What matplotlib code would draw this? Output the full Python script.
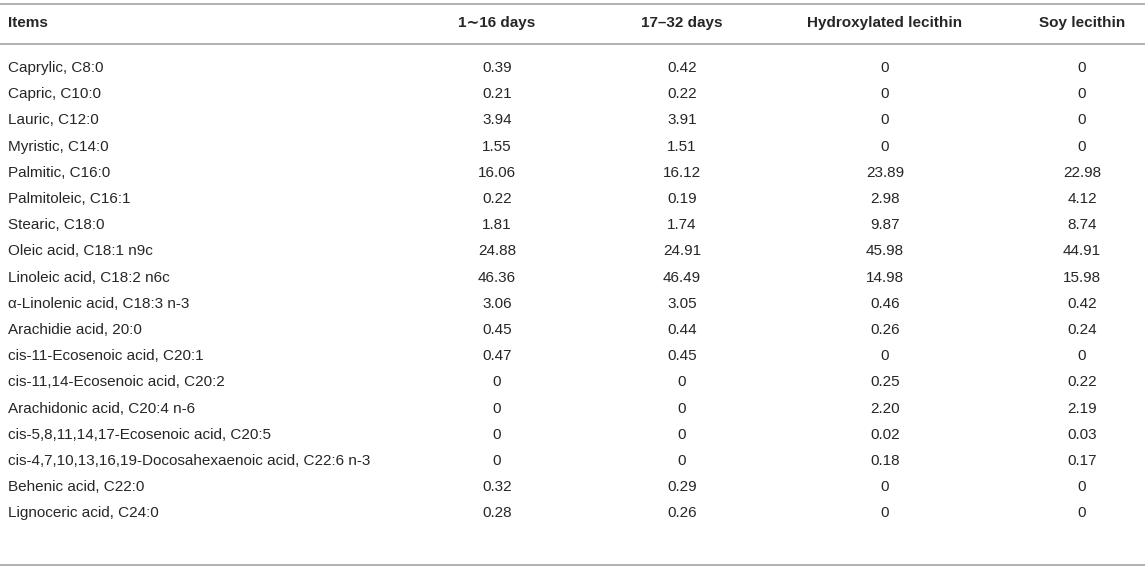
import matplotlib
matplotlib.use("Agg")
import matplotlib.pyplot as plt

# Table content
headers = ["Items", "1\u223c16 days", "17\u201332 days", "Hydroxylated lecithin", "Soy lecithin"]

items = [
    "Caprylic, C8:0",
    "Capric, C10:0",
    "Lauric, C12:0",
    "Myristic, C14:0",
    "Palmitic, C16:0",
    "Palmitoleic, C16:1",
    "Stearic, C18:0",
    "Oleic acid, C18:1 n9c",
    "Linoleic acid, C18:2 n6c",
    "\u03b1-Linolenic acid, C18:3 n-3",
    "Arachidie acid, 20:0",
    "cis-11-Ecosenoic acid, C20:1",
    "cis-11,14-Ecosenoic acid, C20:2",
    "Arachidonic acid, C20:4 n-6",
    "cis-5,8,11,14,17-Ecosenoic acid, C20:5",
    "cis-4,7,10,13,16,19-Docosahexaenoic acid, C22:6 n-3",
    "Behenic acid, C22:0",
    "Lignoceric acid, C24:0",
]

days_1_16 = ["0.39", "0.21", "3.94", "1.55", "16.06", "0.22", "1.81", "24.88", "46.36",
             "3.06", "0.45", "0.47", "0", "0", "0", "0", "0.32", "0.28"]
days_17_32 = ["0.42", "0.22", "3.91", "1.51", "16.12", "0.19", "1.74", "24.91", "46.49",
              "3.05", "0.44", "0.45", "0", "0", "0", "0", "0.29", "0.26"]
hydroxylated = ["0", "0", "0", "0", "23.89", "2.98", "9.87", "45.98", "14.98",
                "0.46", "0.26", "0", "0.25", "2.20", "0.02", "0.18", "0", "0"]
soy = ["0", "0", "0", "0", "22.98", "4.12", "8.74", "44.91", "15.98",
       "0.42", "0.24", "0", "0.22", "2.19", "0.03", "0.17", "0", "0"]

plt.rcParams['font.family'] = ['Liberation Sans', 'DejaVu Sans']

W, H = 1145, 569
fig = plt.figure(figsize=(W / 100, H / 100), dpi=100)
ax = fig.add_axes([0, 0, 1, 1])
ax.set_xlim(0, W)
ax.set_ylim(H, 0)
ax.axis('off')

line_color = '#aaaaaa'
text_color = '#262626'
fs = 11

# horizontal rules
for y in [4, 44, 565]:
    ax.plot([0, W], [y, y], color=line_color, lw=1.3, solid_capstyle='butt')

col_x = [497, 682, 885, 1082]
header_y = 23
row_y0 = 68
row_dy = 26.2

ax.text(8, header_y, headers[0], ha='left', va='center', fontsize=fs,
        fontweight='bold', color=text_color)
for x, h in zip(col_x, headers[1:]):
    ax.text(x, header_y, h, ha='center', va='center', fontsize=fs,
            fontweight='bold', color=text_color)

columns = [days_1_16, days_17_32, hydroxylated, soy]
for i, name in enumerate(items):
    y = row_y0 + i * row_dy
    ax.text(8, y, name, ha='left', va='center', fontsize=fs, color=text_color)
    for x, col in zip(col_x, columns):
        ax.text(x, y, col[i], ha='center', va='center', fontsize=fs, color=text_color)

fig.savefig("out.png", dpi=100)
